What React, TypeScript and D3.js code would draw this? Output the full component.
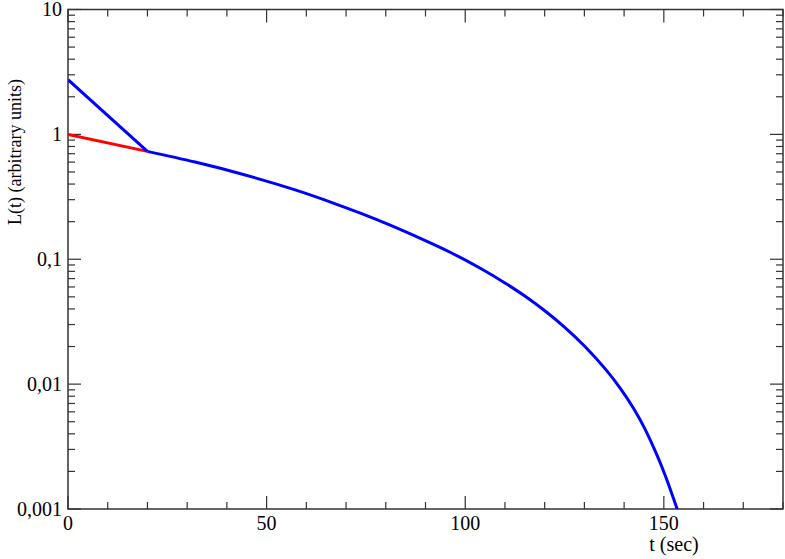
import React, { useEffect, useRef } from 'react';
import * as d3 from 'd3';

// values
const redT = [0, 20];
const redL = [1.0, 0.731];

const blueT = [0, 20, 32, 44.6, 57.2, 67.3, 73.6, 81.1, 88.7, 96.2, 103.8, 110, 115.1, 120.2, 125.2, 130.2, 135.3, 139, 142.4, 145.3, 147.9, 150.4, 152.9, 154];
const blueL = [2.74, 0.731, 0.6, 0.473, 0.359, 0.278, 0.234, 0.1875, 0.147, 0.1138, 0.0847, 0.0646, 0.0505, 0.0383, 0.0282, 0.0199, 0.01318, 0.00929, 0.00638, 0.00434, 0.00288, 0.00184, 0.0011, 0.00086];

const xMajor = [0, 50, 100, 150];
const xMajorLabels = ['0', '50', '100', '150'];
const yMajor = [0.001, 0.01, 0.1, 1, 10];
const yMajorLabels = ['0,001', '0,01', '0,1', '1', '10'];

const App = () => {
    const chartRef = useRef<SVGSVGElement>(null);

    useEffect(() => {
        const width = 785;
        const height = 559;
        const margin = { top: 9.5, right: 2, bottom: 50, left: 68 };
        const innerW = width - margin.left - margin.right;
        const innerH = height - margin.top - margin.bottom;

        const svg = d3.select(chartRef.current);
        svg.selectAll('*').remove();

        const g = svg.append('g').attr('transform', `translate(${margin.left},${margin.top})`);

        const x = d3.scaleLinear().domain([0, 180]).range([0, innerW]);
        const y = d3.scaleLog().domain([0.001, 10]).range([innerH, 0]);

        const font = '"Liberation Serif", "DejaVu Serif", serif';
        const tickColor = '#333';

        // minor ticks
        const xMinor = d3.range(0, 181, 10).filter((d) => d % 50 !== 0);
        const yMinor: number[] = [];
        [0.001, 0.01, 0.1, 1].forEach((dec) => {
            for (let k = 2; k <= 9; k++) yMinor.push(dec * k);
        });

        const ticks = g.append('g').attr('stroke', tickColor).attr('stroke-width', 1.2);

        // bottom + top ticks
        [
            { vals: xMinor, len: 7 },
            { vals: xMajor, len: 13 },
        ].forEach(({ vals, len }) => {
            vals.forEach((v) => {
                ticks.append('line').attr('x1', x(v)).attr('x2', x(v)).attr('y1', innerH).attr('y2', innerH - len);
                ticks.append('line').attr('x1', x(v)).attr('x2', x(v)).attr('y1', 0).attr('y2', len);
            });
        });

        // left + right ticks
        [
            { vals: yMinor, len: 7 },
            { vals: yMajor, len: 13 },
        ].forEach(({ vals, len }) => {
            vals.forEach((v) => {
                ticks.append('line').attr('x1', 0).attr('x2', len).attr('y1', y(v)).attr('y2', y(v));
                ticks.append('line').attr('x1', innerW).attr('x2', innerW - len).attr('y1', y(v)).attr('y2', y(v));
            });
        });

        // curves
        const line = d3
            .line<[number, number]>()
            .x((d) => x(d[0]))
            .y((d) => y(d[1]));

        const redData = redT.map((t, i) => [t, redL[i]] as [number, number]);
        const blueLin = blueT.slice(0, 2).map((t, i) => [t, blueL[i]] as [number, number]);
        const blueCurve = blueT.slice(1).map((t, i) => [t, blueL[i + 1]] as [number, number]);

        svg.append('defs')
            .append('clipPath')
            .attr('id', 'plot-clip')
            .append('rect')
            .attr('x', margin.left)
            .attr('y', margin.top)
            .attr('width', innerW)
            .attr('height', innerH);

        const curves = svg.append('g').attr('clip-path', 'url(#plot-clip)')
            .append('g').attr('transform', `translate(${margin.left},${margin.top})`);

        curves
            .append('path')
            .attr('d', line(redData))
            .attr('fill', 'none')
            .attr('stroke', '#ff0000')
            .attr('stroke-width', 3);

        curves
            .append('path')
            .attr('d', line(blueLin))
            .attr('fill', 'none')
            .attr('stroke', '#0000ff')
            .attr('stroke-width', 3);

        curves
            .append('path')
            .attr('d', line.curve(d3.curveNatural)(blueCurve))
            .attr('fill', 'none')
            .attr('stroke', '#0000ff')
            .attr('stroke-width', 3);

        // frame
        g.append('rect')
            .attr('width', innerW)
            .attr('height', innerH)
            .attr('fill', 'none')
            .attr('stroke', tickColor)
            .attr('stroke-width', 1.5);

        // x tick labels
        g.append('g')
            .selectAll('text')
            .data(xMajor)
            .enter()
            .append('text')
            .attr('x', (d) => x(d))
            .attr('y', innerH + 21)
            .attr('text-anchor', 'middle')
            .attr('font-family', font)
            .attr('font-size', 20)
            .text((d, i) => xMajorLabels[i]);

        // y tick labels
        g.append('g')
            .selectAll('text')
            .data(yMajor)
            .enter()
            .append('text')
            .attr('x', -6)
            .attr('y', (d) => y(d) + 6.5)
            .attr('text-anchor', 'end')
            .attr('font-family', font)
            .attr('font-size', 20)
            .text((d, i) => yMajorLabels[i]);

        // axis titles
        svg.append('text')
            .attr('x', 674)
            .attr('y', 551)
            .attr('text-anchor', 'middle')
            .attr('font-family', font)
            .attr('font-size', 20)
            .text('t (sec)');

        svg.append('text')
            .attr('transform', 'translate(21,152) rotate(-90)')
            .attr('text-anchor', 'middle')
            .attr('font-family', font)
            .attr('font-size', 18)
            .text('L(t) (arbitrary units)');
    }, []);

    return (
        <svg
            ref={chartRef}
            width={785}
            height={559}
            style={{ position: 'absolute', left: 0, top: 0, background: '#fff' }}
        />
    );
};

export default App;
